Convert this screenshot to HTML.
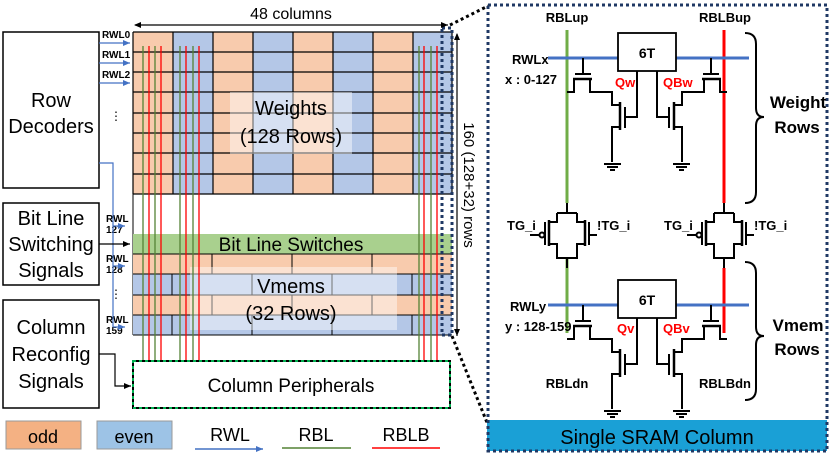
<!DOCTYPE html>
<html><head><meta charset="utf-8"><style>
html,body{margin:0;padding:0;background:#fff;}
svg{display:block;font-family:"Liberation Sans",sans-serif;}
</style></head><body>
<svg width="830" height="455" viewBox="0 0 830 455" xmlns="http://www.w3.org/2000/svg">
<defs>
<marker id="ab" markerWidth="8" markerHeight="8" refX="7" refY="4" orient="auto" markerUnits="userSpaceOnUse"><path d="M0,1 L7,4 L0,7 z" fill="#4472c4"/></marker>
<marker id="ak" markerWidth="8" markerHeight="8" refX="7" refY="4" orient="auto" markerUnits="userSpaceOnUse"><path d="M0,1 L7,4 L0,7 z" fill="#000"/></marker>
<marker id="aks" markerWidth="8" markerHeight="8" refX="1" refY="4" orient="auto" markerUnits="userSpaceOnUse"><path d="M7,1 L0,4 L7,7 z" fill="#000"/></marker>
</defs>

<g fill="#fff" stroke="#000" stroke-width="1.5">
<rect x="3" y="32" width="96" height="156"/>
<rect x="3" y="203" width="96" height="82"/>
<rect x="3" y="300" width="96" height="108"/>
</g>
<g font-size="20" text-anchor="middle" fill="#000">
<text x="51" y="107">Row</text><text x="51" y="133">Decoders</text>
<text x="51" y="225">Bit Line</text><text x="51" y="251">Switching</text><text x="51" y="277">Signals</text>
<text x="51" y="334">Column</text><text x="51" y="361">Reconfig</text><text x="51" y="388">Signals</text>
</g>

<g stroke="none">
<rect x="133" y="32" width="40" height="162" fill="#f8cbad"/>
<rect x="173" y="32" width="40" height="162" fill="#b4c7e7"/>
<rect x="213" y="32" width="40" height="162" fill="#f8cbad"/>
<rect x="253" y="32" width="40" height="162" fill="#b4c7e7"/>
<rect x="293" y="32" width="40" height="162" fill="#f8cbad"/>
<rect x="333" y="32" width="40" height="162" fill="#b4c7e7"/>
<rect x="373" y="32" width="40" height="162" fill="#f8cbad"/>
<rect x="413" y="32" width="39" height="162" fill="#b4c7e7"/>
</g>
<g stroke="#000" stroke-width="1.2">
<path d="M133,32V194M173,32V194M213,32V194M253,32V194M293,32V194M333,32V194M373,32V194M413,32V194M452,32V194"/>
<path d="M133,32H452M133,52H452M133,72H452M133,92H452M133,113H452M133,133H452M133,153H452M133,174H452M133,194H452"/>
<path d="M133,194V335" stroke-width="1"/>
</g>
<rect x="230" y="92" width="122" height="62" fill="#fff" fill-opacity="0.45"/>
<text x="291" y="115" font-size="20" text-anchor="middle">Weights</text>
<text x="291" y="143" font-size="20" text-anchor="middle">(128 Rows)</text>

<rect x="133" y="234" width="319" height="20" fill="#a9d08e"/>
<text x="291" y="251" font-size="19" text-anchor="middle">Bit Line Switches</text>

<rect x="133" y="254" width="319" height="20" fill="#f8cbad"/>
<rect x="133" y="274" width="319" height="21" fill="#b4c7e7"/>
<rect x="133" y="295" width="319" height="20" fill="#f8cbad"/>
<rect x="133" y="315" width="319" height="20" fill="#b4c7e7"/>
<g stroke="#000" stroke-width="1">
<path d="M133,254H452M133,274H452M133,295H452M133,315H452M133,335H452"/>
<path d="M212,254V274M292,254V274M372,254V274M212,295V315M292,295V315M372,295V315"/>
<path d="M172,274V295M252,274V295M332,274V295M412,274V295M172,315V335M252,315V335M332,315V335M412,315V335"/>
</g>
<rect x="190" y="267" width="207" height="63" fill="#fff" fill-opacity="0.45"/>
<text x="291" y="293" font-size="20" text-anchor="middle">Vmems</text>
<text x="291" y="320" font-size="20" text-anchor="middle">(32 Rows)</text>

<g stroke-width="1.3">
<path d="M143,46V361M155,46V361M180,46V361M193,46V361M419,46V361M431,46V361" stroke="#548235"/>
<path d="M149,46V361M161,46V361M186,46V361M199,46V361M424,46V361M437,46V361" stroke="#ff0000"/>
</g>

<rect x="133" y="361" width="317" height="47" fill="#fff" stroke="#000" stroke-width="2"/>
<rect x="133" y="361" width="317" height="47" fill="none" stroke="#00b050" stroke-width="2" stroke-dasharray="3 3"/>
<text x="291" y="392" font-size="19" text-anchor="middle">Column Peripherals</text>

<rect x="442" y="28" width="10" height="307" fill="none" stroke="#1f3864" stroke-width="3" stroke-dasharray="3 3"/>
<path d="M450,25L488,6" stroke="#000" stroke-width="3" stroke-dasharray="3 3"/>
<path d="M452,336L488,425" stroke="#000" stroke-width="3" stroke-dasharray="3 3"/>

<path d="M135,25H448" stroke="#000" stroke-width="1.2" marker-start="url(#aks)" marker-end="url(#ak)"/>
<text x="291" y="19" font-size="16" text-anchor="middle">48 columns</text>
<path d="M457,34V336" stroke="#000" stroke-width="1.2" marker-start="url(#aks)" marker-end="url(#ak)"/>
<text transform="translate(464,185) rotate(90)" font-size="15" text-anchor="middle">160 (128+32) rows</text>

<g font-size="10" font-weight="bold">
<text x="102" y="38">RWL0</text><text x="102" y="58">RWL1</text><text x="102" y="78">RWL2</text>
<text x="106" y="222">RWL</text><text x="106" y="233">127</text>
<text x="106" y="262">RWL</text><text x="106" y="273">128</text>
<text x="106" y="323">RWL</text><text x="106" y="334">159</text>
</g>
<text x="110" y="120" font-size="12">⋮</text>
<text x="110" y="298" font-size="12">⋮</text>
<g stroke="#4472c4" stroke-width="1.2" fill="none">
<path d="M99,43H130" marker-end="url(#ab)"/>
<path d="M99,63H130" marker-end="url(#ab)"/>
<path d="M99,83H130" marker-end="url(#ab)"/>
<path d="M99,163H113V327"/>
<path d="M113,226H125" marker-end="url(#ab)"/>
<path d="M113,266H125" marker-end="url(#ab)"/>
<path d="M113,327H125" marker-end="url(#ab)"/>
</g>
<g stroke="#000" stroke-width="1.2" fill="none">
<path d="M99,244H130" marker-end="url(#ak)"/>
<path d="M99,354H115V386H131" marker-end="url(#ak)"/>
</g>

<rect x="6" y="421" width="75" height="28" fill="#f4b183" stroke="#999"/>
<text x="43" y="443" font-size="18" text-anchor="middle">odd</text>
<rect x="97" y="421" width="75" height="28" fill="#9dc3e6" stroke="#999"/>
<text x="134" y="443" font-size="18" text-anchor="middle">even</text>
<text x="230" y="441" font-size="18" text-anchor="middle">RWL</text>
<path d="M195,449H263" stroke="#4472c4" stroke-width="1.5" marker-end="url(#ab)"/>
<text x="316" y="441" font-size="18" text-anchor="middle">RBL</text>
<path d="M282,448H351" stroke="#548235" stroke-width="1.5"/>
<text x="406" y="441" font-size="18" text-anchor="middle">RBLB</text>
<path d="M372,448H440" stroke="#ff0000" stroke-width="1.5"/>

<rect x="487" y="420" width="340" height="31" fill="#1aa0d6"/>
<text x="657" y="444" font-size="20" text-anchor="middle">Single SRAM Column</text>
<rect x="488" y="5" width="339" height="446" fill="none" stroke="#1f3864" stroke-width="3" stroke-dasharray="3 3"/>

<path d="M567,30V203M567,258V333" stroke="#70ad47" stroke-width="3"/>
<path d="M724,30V203M724,268V333" stroke="#ff0000" stroke-width="3"/>
<g font-size="13" font-weight="bold" text-anchor="middle">
<text x="567" y="22">RBLup</text><text x="725" y="22">RBLBup</text>
<text x="567" y="388">RBLdn</text><text x="725" y="388">RBLBdn</text>
</g>
<g font-size="13" font-weight="bold">
<text x="512" y="64">RWLx</text><text x="505" y="84">x : 0-127</text>
<text x="510" y="311">RWLy</text><text x="505" y="331">y : 128-159</text>
<text x="507" y="230">TG_i</text><text x="597" y="230">!TG_i</text>
<text x="664" y="230">TG_i</text><text x="754" y="230">!TG_i</text>
</g>
<g font-size="13" font-weight="bold" fill="#ff0000">
<text x="615" y="87">Qw</text><text x="663" y="87">QBw</text>
<text x="617" y="333">Qv</text><text x="663" y="333">QBv</text>
</g>

<g id="cell">
<path d="M548,58H749" stroke="#4472c4" stroke-width="3"/>
<rect x="618" y="33" width="58" height="38" fill="#fff" stroke="#000" stroke-width="1.8"/>
<text x="647" y="58" font-size="14" font-weight="bold" text-anchor="middle">6T</text>
<g id="half" stroke="#000" stroke-width="2" fill="none">
<path d="M583,58V74M575,74H591"/>
<path d="M573,79H592" stroke-width="2.5"/>
<path d="M567,92H574V79M590,79V92H612V105H620"/>
<path d="M620,102V130" stroke-width="2.5"/>
<path d="M625,107V128M625,117H637V71"/>
<path d="M620,127H612V162"/>
<path d="M604,164H621M607,167H618M610,170H615"/>
</g>
<use href="#half" transform="matrix(-1,0,0,1,1294,0)"/>
</g>
<use href="#cell" transform="translate(0,247)"/>

<g id="tg" stroke="#000" stroke-width="2" fill="none">
<path d="M567,203V213M557,213H577M557,213V222H549M577,213V222H585"/>
<path d="M549,220V246M585,220V246" stroke-width="2.5"/>
<path d="M545,222V245M589,222V245"/>
<path d="M549,244H557V258H577V244H585M567,258V268"/>
<circle cx="542" cy="235" r="2.5"/>
<path d="M539,235H530M589,235H597"/>
</g>
<use href="#tg" transform="translate(157,0)"/>

<g stroke="#000" stroke-width="2" fill="none">
<path d="M745,33Q756,33 756,44V108Q756,117 764,117Q756,117 756,126V192Q756,203 745,203"/>
<path d="M745,262Q756,262 756,273V327Q756,336 764,336Q756,336 756,345V389Q756,400 745,400"/>
</g>
<g font-size="17" font-weight="bold" text-anchor="middle">
<text x="798" y="108">Weight</text><text x="797" y="133">Rows</text>
<text x="798" y="331">Vmem</text><text x="797" y="355">Rows</text>
</g>
</svg>
</body></html>
